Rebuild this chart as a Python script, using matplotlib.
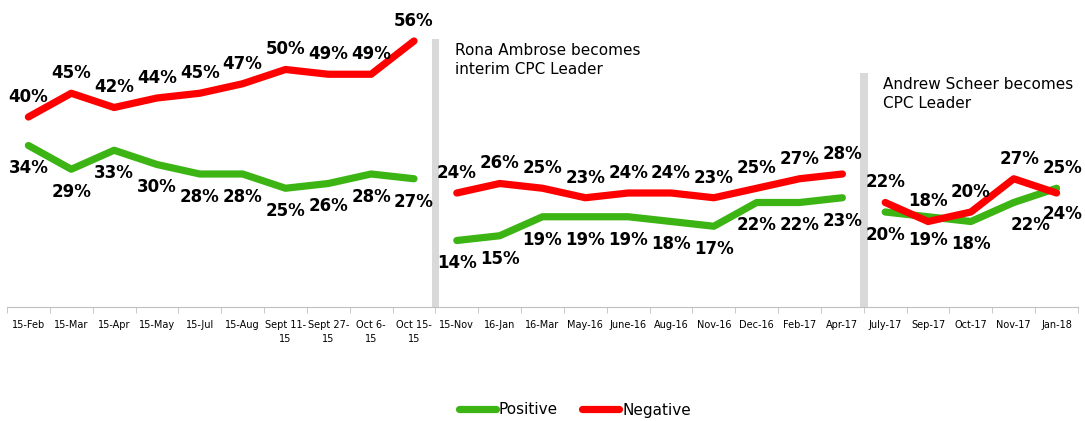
import matplotlib.pyplot as plt
import numpy as np

categories = ['15-Feb', '15-Mar', '15-Apr', '15-May', '15-Jul', '15-Aug',
              'Sept 11-\n15', 'Sept 27-\n15', 'Oct 6-\n15', 'Oct 15-\n15',
              '15-Nov', '16-Jan', '16-Mar', 'May-16', 'June-16', 'Aug-16',
              'Nov-16', 'Dec-16', 'Feb-17', 'Apr-17',
              'July-17', 'Sep-17', 'Oct-17', 'Nov-17', 'Jan-18']
positive = [34, 29, 33, 30, 28, 28, 25, 26, 28, 27,
            14, 15, 19, 19, 19, 18, 17, 22, 22, 23,
            20, 19, 18, 22, 25]
negative = [40, 45, 42, 44, 45, 47, 50, 49, 49, 56,
            24, 26, 25, 23, 24, 24, 23, 25, 27, 28,
            22, 18, 20, 27, 24]
sections = [0, 10, 20, 25]
events = ['Rona Ambrose becomes\ninterim CPC Leader',
          'Andrew Scheer becomes\nCPC Leader']

green = '#3cb414'
red = '#ff0000'

fig = plt.figure(figsize=(10.85, 4.21), dpi=100)
ax = fig.add_axes([7 / 1085, 114 / 421, 1071 / 1085, 285 / 421])

x = np.arange(len(categories))
for i in range(len(sections) - 1):
    a, b = sections[i], sections[i + 1]
    ax.plot(x[a:b], positive[a:b], color=green, lw=5.2,
            solid_capstyle='round', solid_joinstyle='round',
            label='Positive' if i == 0 else None, zorder=3)
    ax.plot(x[a:b], negative[a:b], color=red, lw=5.2,
            solid_capstyle='round', solid_joinstyle='round',
            label='Negative' if i == 0 else None, zorder=4)

# data labels: negative above, positive below (flipped at the last point)
for i in x:
    up_neg = not (i == len(x) - 1)
    dx = 4 if i >= 23 else 0
    ax.annotate(f'{negative[i]}%', (i, negative[i]), textcoords='offset points',
                xytext=(dx, 14.5 if up_neg else -15), ha='center', va='center',
                fontsize=12, fontweight='bold', color='black', zorder=5)
    ax.annotate(f'{positive[i]}%', (i, positive[i]), textcoords='offset points',
                xytext=(dx + (8 if i == 23 else 0), -16.5 if up_neg else 14.5),
                ha='center', va='center',
                fontsize=12, fontweight='bold', color='black', zorder=5)

# separators and event notes
bar_tops = [56.4, 49.3]
for k, b in enumerate(sections[1:-1]):
    ax.bar(b - 0.5, bar_tops[k], width=0.18, color='#d9d9d9', zorder=1)
    ax.text(b - 0.05, bar_tops[k] - 0.8, events[k], ha='left', va='top',
            fontsize=11, linespacing=1.35, color='black')

ax.set_xlim(-0.5, len(categories) - 0.5)
ax.set_ylim(0, 60)
ax.set_yticks([])
ax.set_xticks(x)
ax.set_xticklabels(categories, fontsize=7, linespacing=1.5)
ax.set_xticks(np.arange(-0.5, len(categories)), minor=True)
ax.tick_params(axis='x', which='major', length=0, pad=9)
ax.tick_params(axis='x', which='minor', length=4, color='#bfbfbf', direction='out')
for s in ['left', 'right', 'top']:
    ax.spines[s].set_visible(False)
ax.spines['bottom'].set_color('#bfbfbf')

fig.legend(loc='center', bbox_to_anchor=(575 / 1085, 11 / 421), ncol=2, frameon=False,
           fontsize=11, handlelength=2.4, handletextpad=0.2, columnspacing=1.6)

fig.savefig('out.png', dpi=100)
